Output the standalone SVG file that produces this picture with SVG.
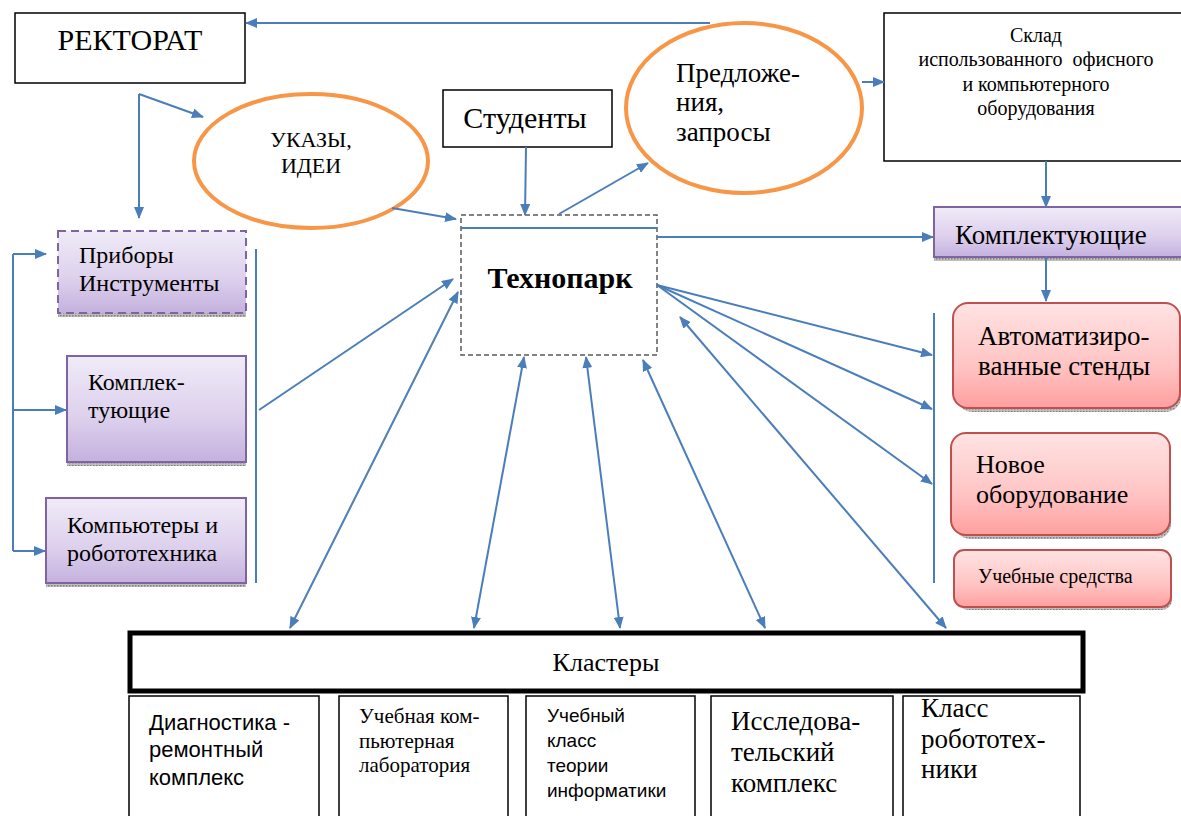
<svg xmlns="http://www.w3.org/2000/svg" width="1181" height="816" viewBox="0 0 1181 816">
<defs>
<linearGradient id="gPurple" x1="0" y1="0" x2="0" y2="1">
<stop offset="0" stop-color="#F0EBF8"/>
<stop offset="0.6" stop-color="#DCCFEC"/>
<stop offset="1" stop-color="#C4B1DE"/>
</linearGradient>
<linearGradient id="gRed" x1="0" y1="0" x2="0" y2="1">
<stop offset="0" stop-color="#FFE3E3"/>
<stop offset="0.6" stop-color="#FFC4C4"/>
<stop offset="1" stop-color="#FF9F9F"/>
</linearGradient>
<pattern id="shadowPat" width="3" height="3" patternUnits="userSpaceOnUse">
<rect width="3" height="3" fill="#BFBFBF"/>
<rect width="1.5" height="1.5" fill="#7F7F7F"/>
</pattern>
<marker id="ah" viewBox="0 0 12 10" refX="11" refY="5" markerWidth="12" markerHeight="10" markerUnits="userSpaceOnUse" orient="auto-start-reverse">
<path d="M0,0 L12,5 L0,10 Z" fill="#4A7EBB"/>
</marker>
</defs>
<style>
.t{font-family:"Liberation Serif","DejaVu Serif","Times New Roman",serif;fill:#000}
.s{font-family:"Liberation Sans",Arial,sans-serif;fill:#000}
.box{fill:#fff;stroke:#000;stroke-width:1.5}
.pur{fill:url(#gPurple);stroke:#8064A2;stroke-width:2}
.red{fill:url(#gRed);stroke:#C0504D;stroke-width:2}
.ell{fill:#fff;stroke:#F79646;stroke-width:4}
.sh{fill:url(#shadowPat)}
.c{fill:none;stroke:#4A7EBB;stroke-width:2}
.a{fill:none;stroke:#4A7EBB;stroke-width:2;marker-end:url(#ah)}
.d{fill:none;stroke:#4A7EBB;stroke-width:2;marker-start:url(#ah);marker-end:url(#ah)}
</style>

<g id="rektorat">
<rect class="box" x="15" y="13" width="230" height="70"/>
<text class="t" x="130" y="50" font-size="30" text-anchor="middle">РЕКТОРАТ</text>
</g>

<g id="ukazy">
<ellipse class="ell" cx="311" cy="161" rx="117" ry="67"/>
<text class="t" x="311" y="147" font-size="22" text-anchor="middle">УКАЗЫ,</text>
<text class="t" x="311" y="173" font-size="22" text-anchor="middle">ИДЕИ</text>
</g>

<g id="studenty">
<rect class="box" x="443" y="90" width="169" height="57"/>
<text class="t" x="525" y="128" font-size="30" text-anchor="middle">Студенты</text>
</g>

<g id="predlozheniya">
<ellipse class="ell" cx="744" cy="108" rx="118" ry="85"/>
<text class="t" x="676" y="82" font-size="27">Предложе-</text>
<text class="t" x="676" y="111" font-size="27">ния,</text>
<text class="t" x="676" y="141" font-size="27">запросы</text>
</g>

<g id="sklad">
<rect class="box" x="884" y="13" width="298" height="148"/>
<text class="t" x="1036" y="42" font-size="20" text-anchor="middle">Склад</text>
<text class="t" x="1036" y="66" font-size="20" text-anchor="middle" xml:space="preserve">использованного  офисного</text>
<text class="t" x="1036" y="91" font-size="20" text-anchor="middle">и компьютерного</text>
<text class="t" x="1036" y="115" font-size="20" text-anchor="middle">оборудования</text>
</g>

<g id="tekhnopark">
<rect x="461" y="215" width="196" height="140" fill="#fff" stroke="#595959" stroke-width="1.5" stroke-dasharray="5,3"/>
<line x1="461" y1="228" x2="657" y2="228" stroke="#4A7EBB" stroke-width="2"/>
<text class="t" x="560" y="288" font-size="30" font-weight="bold" text-anchor="middle">Технопарк</text>
</g>

<g id="komplekt-right">
<rect class="sh" x="934" y="257" width="247" height="4"/>
<rect class="pur" x="934" y="207" width="250" height="50"/>
<text class="t" x="955" y="244" font-size="27">Комплектующие</text>
</g>

<g id="pribory">
<rect class="sh" x="58" y="313" width="188" height="4"/>
<rect class="pur" x="58" y="231" width="188" height="82" stroke-dasharray="8,5"/>
<text class="t" x="79" y="263" font-size="24">Приборы</text>
<text class="t" x="79" y="291" font-size="24">Инструменты</text>
</g>

<g id="komplekt-left">
<rect class="sh" x="67" y="462" width="179" height="4"/>
<rect class="pur" x="67" y="356" width="179" height="106"/>
<text class="t" x="88" y="390" font-size="24">Комплек-</text>
<text class="t" x="88" y="418" font-size="24">тующие</text>
</g>

<g id="kompyutery">
<rect class="sh" x="46" y="583" width="200" height="4"/>
<rect class="pur" x="46" y="498" width="200" height="85"/>
<text class="t" x="67" y="533" font-size="24">Компьютеры и</text>
<text class="t" x="67" y="561" font-size="24">робототехника</text>
</g>

<g id="avtomat">
<rect class="sh" x="957" y="306" width="224" height="106" rx="15"/>
<rect class="red" x="953" y="303" width="227" height="105" rx="15"/>
<text class="t" x="978" y="345" font-size="27">Автоматизиро-</text>
<text class="t" x="978" y="375" font-size="27">ванные стенды</text>
</g>

<g id="novoe">
<rect class="sh" x="955" y="436" width="216" height="103" rx="15"/>
<rect class="red" x="951" y="433" width="219" height="102" rx="15"/>
<text class="t" x="976" y="473" font-size="26">Новое</text>
<text class="t" x="976" y="503" font-size="26">оборудование</text>
</g>

<g id="uchebnye-sredstva">
<rect class="sh" x="958" y="553" width="214" height="57" rx="10"/>
<rect class="red" x="954" y="550" width="217" height="57" rx="10"/>
<text class="t" x="978" y="583" font-size="20">Учебные средства</text>
</g>

<g id="klastery">
<rect x="130" y="633" width="953" height="58" fill="#fff" stroke="#000" stroke-width="5"/>
<text class="t" x="606" y="671" font-size="26" text-anchor="middle">Кластеры</text>
</g>

<g id="cl-diagnostika">
<rect class="box" x="129" y="696" width="190" height="130"/>
<text class="s" x="149" y="730" font-size="22">Диагностика -</text>
<text class="s" x="149" y="757" font-size="22">ремонтный</text>
<text class="s" x="149" y="785" font-size="22">комплекс</text>
</g>

<g id="cl-laboratoriya">
<rect class="box" x="339" y="696" width="169" height="130"/>
<text class="t" x="359" y="723" font-size="21">Учебная ком-</text>
<text class="t" x="359" y="748" font-size="21">пьютерная</text>
<text class="t" x="359" y="772" font-size="21">лаборатория</text>
</g>

<g id="cl-informatika">
<rect class="box" x="526" y="696" width="169" height="130"/>
<text class="s" x="547" y="722" font-size="19">Учебный</text>
<text class="s" x="547" y="747" font-size="19">класс</text>
<text class="s" x="547" y="772" font-size="19">теории</text>
<text class="s" x="547" y="797" font-size="19">информатики</text>
</g>

<g id="cl-issled">
<rect class="box" x="711" y="696" width="182" height="130"/>
<text class="t" x="731" y="730" font-size="27">Исследова-</text>
<text class="t" x="731" y="761" font-size="27">тельский</text>
<text class="t" x="731" y="792" font-size="27">комплекс</text>
</g>

<g id="cl-robot">
<rect class="box" x="903" y="696" width="177" height="130"/>
<text class="t" x="921" y="717" font-size="27">Класс</text>
<text class="t" x="921" y="748" font-size="27">робототех-</text>
<text class="t" x="921" y="778" font-size="27">ники</text>
</g>

<g id="connectors">
<path class="a" d="M710,23 L246,23"/>
<path class="a" d="M139,94 L139,218"/>
<path class="a" d="M139,94 L203,117"/>
<path class="a" d="M392,208 L456,219"/>
<path class="a" d="M526,147 L525,215"/>
<path class="a" d="M559,214 L648,163"/>
<path class="a" d="M862,82 L884,82"/>
<path class="a" d="M1046,161 L1046,207"/>
<path class="a" d="M1046,257 L1046,301"/>
<path class="a" d="M657,237 L933,237"/>
<path class="c" d="M256,249 L256,583"/>
<path class="a" d="M259,410 L453,279"/>
<path class="c" d="M13,254 L13,551"/>
<path class="a" d="M13,254 L46,254"/>
<path class="a" d="M13,410 L66,410"/>
<path class="a" d="M13,551 L45,551"/>
<path class="d" d="M290,628 L458,292"/>
<path class="d" d="M474,628 L524,357"/>
<path class="d" d="M620,628 L586,357"/>
<path class="d" d="M765,628 L643,360"/>
<path class="d" d="M946,628 L680,317"/>
<path class="a" d="M657,285 L932,355"/>
<path class="a" d="M657,285 L932,409"/>
<path class="a" d="M657,285 L932,484"/>
<path class="c" d="M934,313 L934,583"/>
</g>
</svg>
